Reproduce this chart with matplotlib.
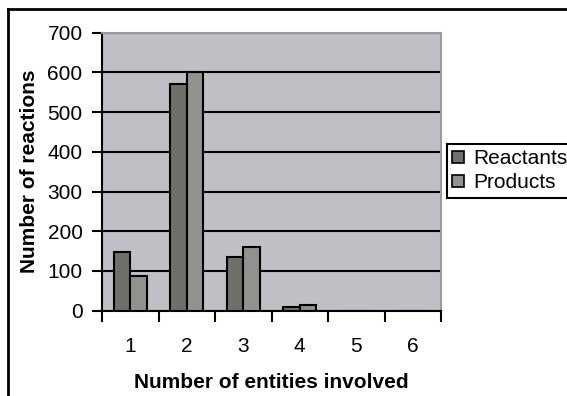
import matplotlib
matplotlib.use("Agg")
import matplotlib.pyplot as plt
from matplotlib.lines import Line2D
from matplotlib.patches import Patch
import numpy as np

# Reaction counts by number of entities involved
categories = ["1", "2", "3", "4", "5", "6"]
reactants = [148, 570, 135, 10, 0, 0]
products = [88, 600, 160, 15, 0, 0]
series_names = ["Reactants", "Products"]
yticks = [0, 100, 200, 300, 400, 500, 600, 700]

W, H = 567, 396
plt.rcParams["font.family"] = ["Liberation Sans", "DejaVu Sans"]
fs = 15

fig = plt.figure(figsize=(W / 100, H / 100), dpi=100)
fig.patch.set_facecolor("white")

left, right, top, bottom = 102, 441, 32.7, 310.7
ax = fig.add_axes([left / W, 1 - bottom / H, (right - left) / W, (bottom - top) / H])
ax.set_facecolor("#c1bfc5")

x = np.arange(1, len(categories) + 1)
bw = 0.29
ax.bar(x - bw / 2, reactants, bw, color="#6e706a", edgecolor="black", linewidth=1.5, zorder=3)
ax.bar(x + bw / 2, products, bw, color="#8f928d", edgecolor="black", linewidth=1.5, zorder=3)

ax.set_xlim(0.5, len(categories) + 0.5)
ax.set_ylim(0, 700)
ax.set_yticks(yticks)
ax.yaxis.grid(True, color="black", linewidth=1.5, zorder=1)
ax.set_axisbelow(True)

# category boundaries carry the tick marks, labels sit in the middle
ax.set_xticks(np.arange(0.5, len(categories) + 1, 1.0))
ax.set_xticklabels([])
ax.set_xticks(x, minor=True)
ax.set_xticklabels(categories, minor=True, fontsize=fs)
ax.tick_params(axis="x", which="major", direction="out", length=8, width=1.5, color="black")
ax.tick_params(axis="x", which="minor", length=0, pad=19)
ax.tick_params(axis="y", direction="out", length=7, width=1.5, pad=7, labelsize=fs)

for s in ("left", "bottom"):
    ax.spines[s].set_color("black")
    ax.spines[s].set_linewidth(1.5)
for s in ("right", "top"):
    ax.spines[s].set_color("#9a9a9a")
    ax.spines[s].set_linewidth(1.5)

ax.set_ylabel("Number of reactions", fontsize=fs, fontweight="bold", labelpad=6)
ax.set_xlabel("Number of entities involved", fontsize=fs, fontweight="bold", labelpad=12)

handles = [Patch(facecolor="#6e706a", edgecolor="black", linewidth=1.2),
           Patch(facecolor="#8f928d", edgecolor="black", linewidth=1.2)]
leg = fig.legend(handles, series_names, loc="upper left",
                 bbox_to_anchor=(447 / W, 1 - 144 / H), borderaxespad=0,
                 fontsize=fs, frameon=True, fancybox=False, framealpha=1,
                 edgecolor="black", handlelength=0.55, handleheight=0.55,
                 handletextpad=0.45, labelspacing=0.25, borderpad=0.25)
leg.get_frame().set_linewidth(1.5)

# outer chart border (left and top edges)
fig.add_artist(Line2D([8 / W, 8 / W], [0, 1 - 9 / H], transform=fig.transFigure,
                      color="black", linewidth=2))
fig.add_artist(Line2D([8 / W, 1], [1 - 9 / H, 1 - 9 / H], transform=fig.transFigure,
                      color="black", linewidth=2))

fig.savefig("out.png", dpi=100)
